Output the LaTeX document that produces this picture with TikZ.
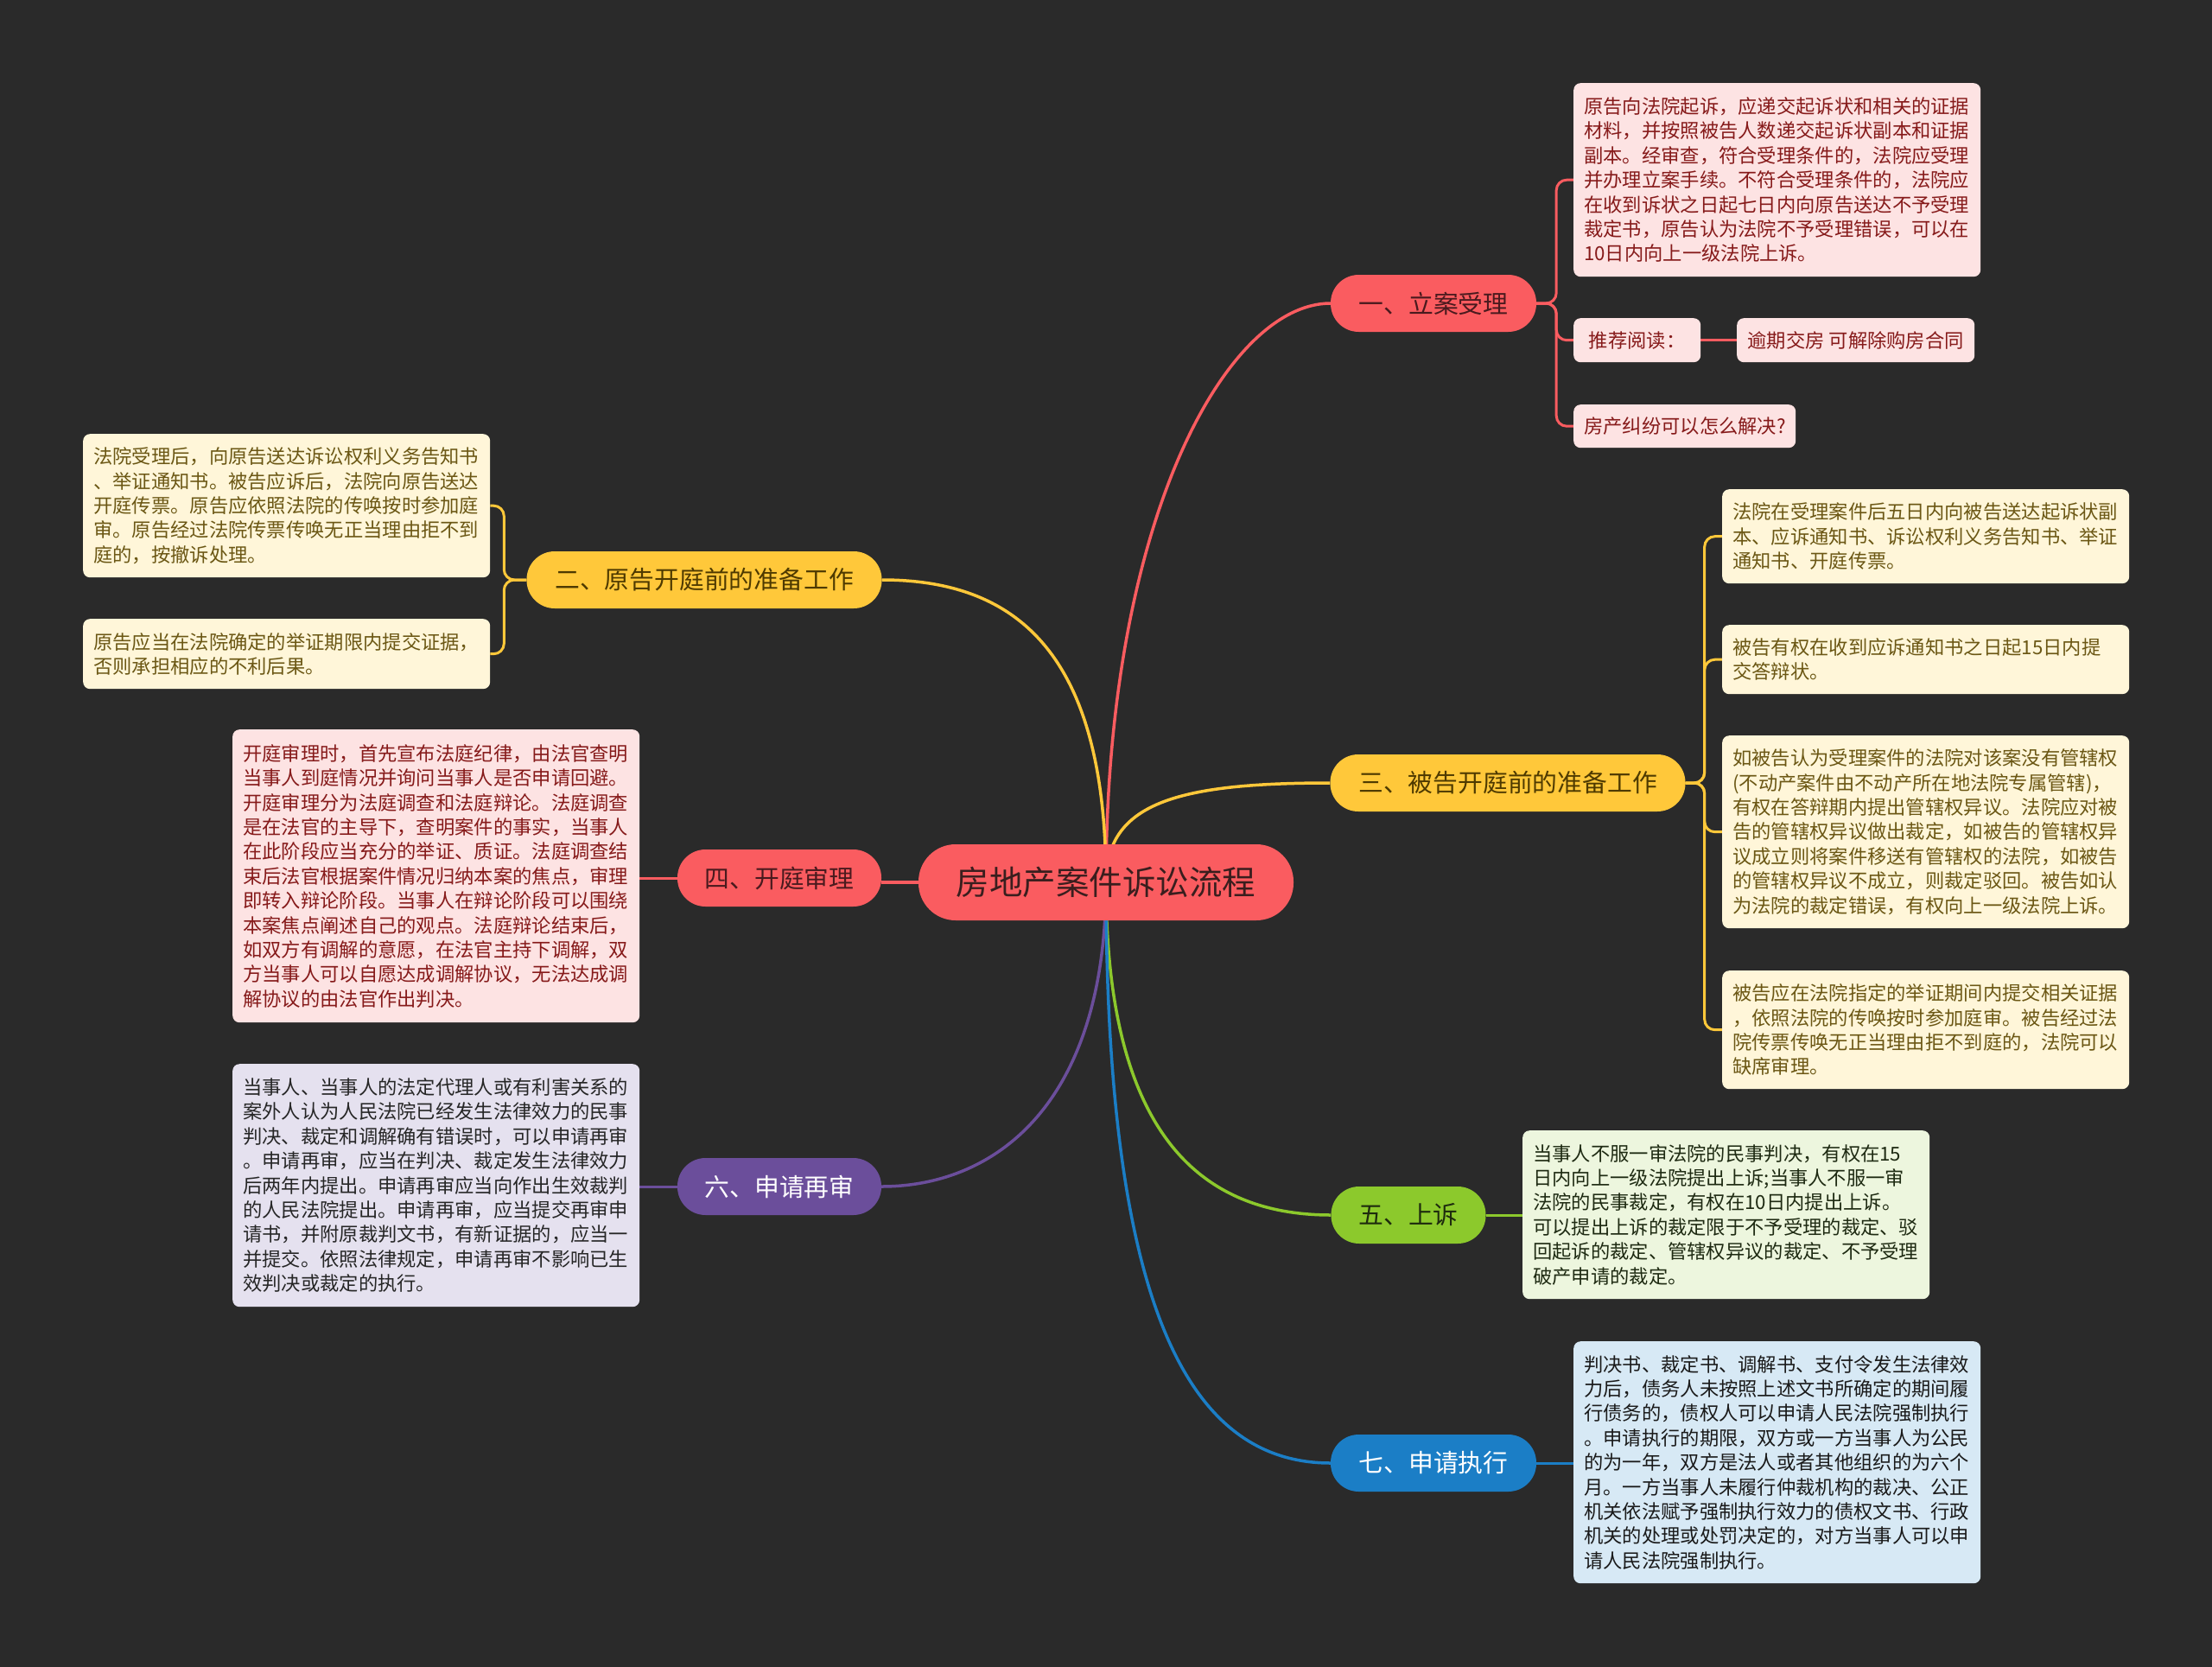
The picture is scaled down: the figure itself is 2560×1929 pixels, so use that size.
\documentclass[tikz,border=0pt]{standalone}
\usepackage{fontspec}
\setmainfont{Noto Sans CJK SC}
\pgfdeclarelayer{bg}
\pgfsetlayers{bg,main}
\definecolor{bgc}{HTML}{2A2A2A}
\definecolor{cred}{HTML}{FA5C60}
\definecolor{cyel}{HTML}{FFC83A}
\definecolor{cgrn}{HTML}{8CC92C}
\definecolor{cpur}{HTML}{6B4E9B}
\definecolor{cblu}{HTML}{1B7EC6}
\definecolor{troot}{HTML}{3A1E1E}
\definecolor{tred}{HTML}{4A1A1E}
\definecolor{tyel}{HTML}{4E3A00}
\definecolor{tgrn}{HTML}{1E2B0E}
\definecolor{fpink}{HTML}{FDE3E3}
\definecolor{tpink}{HTML}{861A1A}
\definecolor{fcream}{HTML}{FFF6D9}
\definecolor{tcream}{HTML}{6B5714}
\definecolor{flav}{HTML}{E5E1EF}
\definecolor{tlav}{HTML}{262626}
\definecolor{flgrn}{HTML}{EDF6DE}
\definecolor{tlgrn}{HTML}{1E2A12}
\definecolor{flblu}{HTML}{D7E9F5}
\definecolor{tlblu}{HTML}{1A1A1A}
\tikzset{
  rootnode/.style={fill=cred, text=troot, rounded corners=43pt, minimum width=434pt, minimum height=88pt, inner sep=0pt, font=\fontsize{38.5}{46}\selectfont},
  brnode/.style={rounded corners=32.5pt, minimum height=66pt, inner sep=0pt, font=\fontsize{28.8}{34}\selectfont},
  redbr/.style={brnode, fill=cred, text=tred},
  yelbr/.style={brnode, fill=cyel, text=tyel},
  grnbr/.style={brnode, fill=cgrn, text=tgrn},
  purbr/.style={brnode, fill=cpur, text=white},
  blubr/.style={brnode, fill=cblu, text=white},
  dbox/.style={rounded corners=8pt, anchor=north west, inner xsep=12pt, inner ysep=0pt, align=left, text width=447pt, font=\fontsize{22.3}{28.4}\selectfont},
  sbox/.style={rounded corners=8pt, anchor=north west, inner xsep=0pt, inner ysep=0pt, font=\fontsize{22.3}{28.4}\selectfont},
  pinkbox/.style={fill=fpink, text=tpink},
  creambox/.style={fill=fcream, text=tcream},
  lavbox/.style={fill=flav, text=tlav},
  lgrnbox/.style={fill=flgrn, text=tlgrn},
  lblubox/.style={fill=flblu, text=tlblu},
  mainline/.style={line width=3.5pt},
  subline/.style={line width=3pt, rounded corners=12pt},
}
\begin{document}
\begin{tikzpicture}[x=1pt, y=-1pt]
\useasboundingbox (0,0) rectangle (2560,1929);

% central and branch nodes
\node[rootnode] (c) at (1280,1021) {房地产案件诉讼流程};
\node[redbr, minimum width=238pt] (b1) at (1659,351) {一、立案受理};
\node[yelbr, minimum width=411pt] (b2) at (815,671) {二、原告开庭前的准备工作};
\node[yelbr, minimum width=411pt] (b3) at (1745,906) {三、被告开庭前的准备工作};
\node[redbr, minimum width=236pt] (b4) at (902,1016) {四、开庭审理};
\node[grnbr, minimum width=179pt] (b5) at (1630,1406) {五、上诉};
\node[purbr, minimum width=236pt] (b6) at (902,1373) {六、申请再审};
\node[blubr, minimum width=238pt] (b7) at (1659,1693) {七、申请执行};

% detail boxes
\node[dbox, pinkbox, minimum height=224pt] (d1) at (1821,96) {原告向法院起诉，应递交起诉状和相关的证据\\材料，并按照被告人数递交起诉状副本和证据\\副本。经审查，符合受理条件的，法院应受理\\并办理立案手续。不符合受理条件的，法院应\\在收到诉状之日起七日内向原告送达不予受理\\裁定书，原告认为法院不予受理错误，可以在\\10日内向上一级法院上诉。};
\node[sbox, pinkbox, minimum width=147pt, minimum height=51pt] (d1r) at (1821,368) {推荐阅读：};
\node[sbox, pinkbox, minimum width=275pt, minimum height=51pt] (d1s) at (2010,368) {逾期交房 可解除购房合同};
\node[sbox, pinkbox, inner xsep=12pt, minimum width=257pt, minimum height=50pt, align=left, text width=233pt] (d1t) at (1821,468) {房产纠纷可以怎么解决?};

\node[dbox, creambox, minimum height=166pt] (d2a) at (96,502) {法院受理后，向原告送达诉讼权利义务告知书\\、举证通知书。被告应诉后，法院向原告送达\\开庭传票。原告应依照法院的传唤按时参加庭\\审。原告经过法院传票传唤无正当理由拒不到\\庭的，按撤诉处理。};
\node[dbox, creambox, minimum height=81pt] (d2b) at (96,716) {原告应当在法院确定的举证期限内提交证据，\\否则承担相应的不利后果。};

\node[dbox, creambox, minimum height=109pt] (d3a) at (1993,566) {法院在受理案件后五日内向被告送达起诉状副\\本、应诉通知书、诉讼权利义务告知书、举证\\通知书、开庭传票。};
\node[dbox, creambox, minimum height=80pt] (d3b) at (1993,723) {被告有权在收到应诉通知书之日起15日内提\\交答辩状。};
\node[dbox, creambox, minimum height=223pt] (d3c) at (1993,851) {如被告认为受理案件的法院对该案没有管辖权\\(不动产案件由不动产所在地法院专属管辖)，\\有权在答辩期内提出管辖权异议。法院应对被\\告的管辖权异议做出裁定，如被告的管辖权异\\议成立则将案件移送有管辖权的法院，如被告\\的管辖权异议不成立，则裁定驳回。被告如认\\为法院的裁定错误，有权向上一级法院上诉。};
\node[dbox, creambox, minimum height=137pt] (d3d) at (1993,1123) {被告应在法院指定的举证期间内提交相关证据\\，依照法院的传唤按时参加庭审。被告经过法\\院传票传唤无正当理由拒不到庭的，法院可以\\缺席审理。};

\node[dbox, pinkbox, minimum height=339pt] (d4) at (269,844) {开庭审理时，首先宣布法庭纪律，由法官查明\\当事人到庭情况并询问当事人是否申请回避。\\开庭审理分为法庭调查和法庭辩论。法庭调查\\是在法官的主导下，查明案件的事实，当事人\\在此阶段应当充分的举证、质证。法庭调查结\\束后法官根据案件情况归纳本案的焦点，审理\\即转入辩论阶段。当事人在辩论阶段可以围绕\\本案焦点阐述自己的观点。法庭辩论结束后，\\如双方有调解的意愿，在法官主持下调解，双\\方当事人可以自愿达成调解协议，无法达成调\\解协议的由法官作出判决。};

\node[dbox, lgrnbox, minimum height=195pt] (d5) at (1762,1308) {当事人不服一审法院的民事判决，有权在15\\日内向上一级法院提出上诉;当事人不服一审\\法院的民事裁定，有权在10日内提出上诉。\\可以提出上诉的裁定限于不予受理的裁定、驳\\回起诉的裁定、管辖权异议的裁定、不予受理\\破产申请的裁定。};

\node[dbox, lavbox, minimum height=281pt] (d6) at (269,1231) {当事人、当事人的法定代理人或有利害关系的\\案外人认为人民法院已经发生法律效力的民事\\判决、裁定和调解确有错误时，可以申请再审\\。申请再审，应当在判决、裁定发生法律效力\\后两年内提出。申请再审应当向作出生效裁判\\的人民法院提出。申请再审，应当提交再审申\\请书，并附原裁判文书，有新证据的，应当一\\并提交。依照法律规定，申请再审不影响已生\\效判决或裁定的执行。};

\node[dbox, lblubox, minimum height=280pt] (d7) at (1821,1552) {判决书、裁定书、调解书、支付令发生法律效\\力后，债务人未按照上述文书所确定的期间履\\行债务的，债权人可以申请人民法院强制执行\\。申请执行的期限，双方或一方当事人为公民\\的为一年，双方是法人或者其他组织的为六个\\月。一方当事人未履行仲裁机构的裁决、公正\\机关依法赋予强制执行效力的债权文书、行政\\机关的处理或处罚决定的，对方当事人可以申\\请人民法院强制执行。};

\begin{pgfonlayer}{bg}
\fill[bgc] (0,0) rectangle (2560,1929);
% main curves
\draw[mainline, cred] (c.center) .. controls (1280,600) and (1420,351) .. (b1.west);
\draw[mainline, cyel] (c.center) .. controls (1280,760) and (1180,671) .. (b2.east);
\draw[mainline, cyel] (c.center) .. controls (1280,930) and (1360,906) .. (b3.west);
\draw[mainline, cred] (c.center) -- (c.center -| b4.east);
\draw[mainline, cgrn] (c.center) .. controls (1280,1300) and (1380,1406) .. (b5.west);
\draw[mainline, cpur] (c.center) .. controls (1280,1280) and (1150,1373) .. (b6.east);
\draw[mainline, cblu] (c.center) .. controls (1280,1500) and (1370,1693) .. (b7.west);
% sub connectors
\draw[subline, cred] (b1.east) -- ++(23,0) |- (d1.west);
\draw[subline, cred] (b1.east) -- ++(23,0) |- (d1r.west);
\draw[subline, cred] (b1.east) -- ++(23,0) |- (d1t.west);
\draw[subline, cred] (d1r.east) -- (d1s.west);
\draw[subline, cyel] (b2.west) -- ++(-26,0) |- (d2a.east);
\draw[subline, cyel] (b2.west) -- ++(-26,0) |- (d2b.east);
\draw[subline, cyel] (b3.east) -- ++(22,0) |- (d3a.west);
\draw[subline, cyel] (b3.east) -- ++(22,0) |- (d3b.west);
\draw[subline, cyel] (b3.east) -- ++(22,0) |- (d3c.west);
\draw[subline, cyel] (b3.east) -- ++(22,0) |- (d3d.west);
\draw[subline, cred] (b4.west) -- (b4.west -| d4.east);
\draw[subline, cgrn] (b5.east) -- (b5.east -| d5.west);
\draw[subline, cpur] (b6.west) -- (b6.west -| d6.east);
\draw[subline, cblu] (b7.east) -- (b7.east -| d7.west);
\end{pgfonlayer}
\end{tikzpicture}
\end{document}
